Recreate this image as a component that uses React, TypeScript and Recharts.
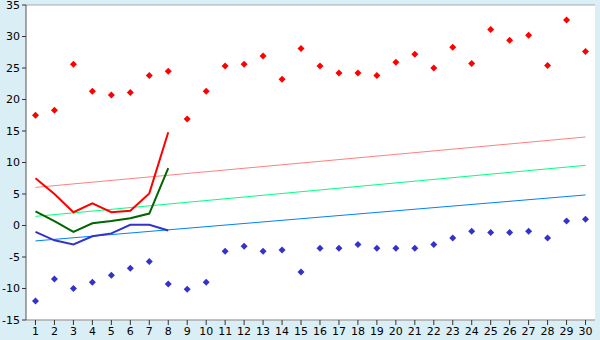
import { ComposedChart, Line, Scatter, XAxis, YAxis, CartesianGrid } from 'recharts';

const days = [1, 2, 3, 4, 5, 6, 7, 8, 9, 10, 11, 12, 13, 14, 15, 16, 17, 18, 19, 20, 21, 22, 23, 24, 25, 26, 27, 28, 29, 30];

const maxTemp = [17.5, 18.3, 25.6, 21.3, 20.7, 21.1, 23.8, 24.5, 16.9, 21.3, 25.3, 25.6, 26.9, 23.2, 28.1, 25.3, 24.2, 24.2, 23.8, 25.9, 27.2, 25.0, 28.3, 25.7, 31.1, 29.4, 30.2, 25.4, 32.6, 27.6];
const minTemp = [-12.0, -8.5, -10.0, -9.0, -7.9, -6.8, -5.7, -9.3, -10.1, -9.0, -4.1, -3.3, -4.1, -3.9, -7.4, -3.6, -3.6, -3.0, -3.6, -3.6, -3.6, -3.0, -2.0, -0.9, -1.1, -1.1, -0.9, -2.0, 0.7, 1.0];

const highLine = [7.5, 5.0, 2.1, 3.5, 2.1, 2.35, 5.1, 14.8];
const meanLine = [2.25, 0.7, -1.0, 0.35, 0.7, 1.15, 1.9, 9.1];
const lowLine = [-1.0, -2.35, -3.0, -1.7, -1.25, 0.1, 0.1, -0.8];

// trend lines: value at first and last day
const highTrend = [6.05, 14.05];
const meanTrend = [1.45, 9.55];
const lowTrend = [-2.45, 4.85];

const yTicks = [-15, -10, -5, 0, 5, 10, 15, 20, 25, 30, 35];

const data = days.map((d, i) => ({
  day: d,
  max: maxTemp[i],
  min: minTemp[i],
  high: i < highLine.length ? highLine[i] : null,
  mean: i < meanLine.length ? meanLine[i] : null,
  low: i < lowLine.length ? lowLine[i] : null,
  highT: i === 0 ? highTrend[0] : i === days.length - 1 ? highTrend[1] : null,
  meanT: i === 0 ? meanTrend[0] : i === days.length - 1 ? meanTrend[1] : null,
  lowT: i === 0 ? lowTrend[0] : i === days.length - 1 ? lowTrend[1] : null,
}));

function Diamond(props: any) {
  const { cx, cy, fill } = props;
  if (cx == null || cy == null) return null;
  return <path d={`M${cx},${cy - 3.5}L${cx + 3.5},${cy}L${cx},${cy + 3.5}L${cx - 3.5},${cy}z`} fill={fill} />;
}

const font = { fontFamily: '"DejaVu Sans", Verdana, sans-serif', fontSize: 11, fill: '#000' };

export default function App() {
  return (
    <div style={{ position: 'absolute', left: 0, top: 0, width: 600, height: 340, background: '#daeef6' }}>
      <ComposedChart width={600} height={340} data={data} margin={{ top: 5, right: 5, bottom: 0, left: 0 }}>
        <CartesianGrid vertical={false} stroke="#aaaaaa" fill="#ffffff" />
        <XAxis
          dataKey="day"
          scale="band"
          height={20}
          tick={font}
          tickSize={5}
          tickLine={{ stroke: '#333' }}
          axisLine={{ stroke: '#aaaaaa' }}
          interval={0}
        />
        <YAxis
          yAxisId="l"
          width={26}
          domain={[-15, 35]}
          ticks={yTicks}
          tick={font}
          tickSize={4}
          tickLine={{ stroke: '#333' }}
          axisLine={{ stroke: '#555' }}
          interval={0}
        />
        <YAxis
          yAxisId="r"
          orientation="right"
          width={0}
          domain={[-15, 35]}
          tick={false}
          tickLine={false}
          axisLine={{ stroke: '#aaaaaa' }}
        />
        <Line yAxisId="l" dataKey="highT" stroke="#ff8080" strokeWidth={1} dot={false} connectNulls isAnimationActive={false} />
        <Line yAxisId="l" dataKey="meanT" stroke="#00ff80" strokeWidth={1} dot={false} connectNulls isAnimationActive={false} />
        <Line yAxisId="l" dataKey="lowT" stroke="#0080ff" strokeWidth={1} dot={false} connectNulls isAnimationActive={false} />
        <Line yAxisId="l" dataKey="high" stroke="#ff0000" strokeWidth={2} dot={false} isAnimationActive={false} />
        <Line yAxisId="l" dataKey="mean" stroke="#006600" strokeWidth={2} dot={false} isAnimationActive={false} />
        <Line yAxisId="l" dataKey="low" stroke="#3333cc" strokeWidth={2} dot={false} isAnimationActive={false} />
        <Scatter yAxisId="l" dataKey="max" fill="#ff0000" shape={<Diamond />} isAnimationActive={false} />
        <Scatter yAxisId="l" dataKey="min" fill="#3333cc" shape={<Diamond />} isAnimationActive={false} />
      </ComposedChart>
    </div>
  );
}
